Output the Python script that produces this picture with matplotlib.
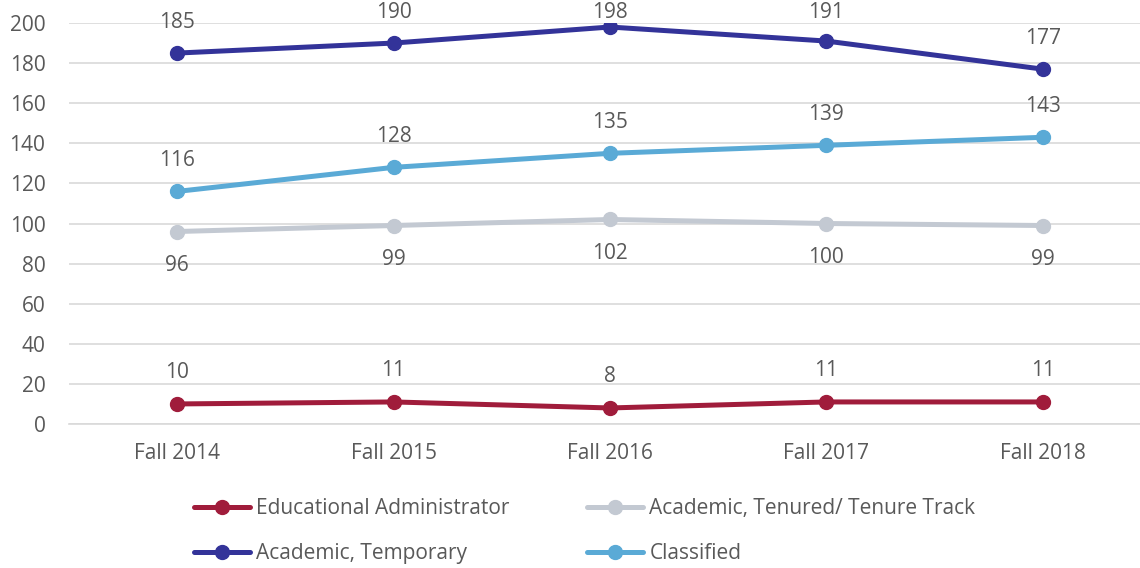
"""
Staff headcount by category, Fall 2014 - Fall 2018
"""
import matplotlib.pyplot as plt
import numpy as np

terms = ["Fall 2014", "Fall 2015", "Fall 2016", "Fall 2017", "Fall 2018"]

admin = [10, 11, 8, 11, 11]
tenured = [96, 99, 102, 100, 99]
temporary = [185, 190, 198, 191, 177]
classified = [116, 128, 135, 139, 143]

TEXT = "#595959"
W, H = 1140, 568


def main():
    plt.rcParams["font.family"] = ["Open Sans", "DejaVu Sans"]
    fig = plt.figure(figsize=(W / 100, H / 100), dpi=100)
    ax = fig.add_axes([69 / W, 1 - 424 / H, 1 - 69 / W, (424 - 23) / H])

    x = np.arange(len(terms))
    # (label, values, colour, label offset in pixels: + above, - below)
    series = [
        ("Educational Administrator", admin, "#A01C3B", 31),
        ("Academic, Tenured/ Tenure Track", tenured, "#C3C9D2", -34),
        ("Academic, Temporary", temporary, "#333399", 31),
        ("Classified", classified, "#5AAAD6", 31),
    ]
    lines = {}
    for name, vals, col, off in series:
        lines[name], = ax.plot(x, vals, color=col, lw=3.6, marker="o", ms=10,
                               label=name, solid_capstyle="round", zorder=3)

    ax.set_xlim(-0.5, 4.45)
    ax.set_ylim(0, 200)

    # data labels, kept inside the figure like Excel does
    for name, vals, col, off in series:
        for xi, v in zip(x, vals):
            px, py = ax.transData.transform((xi, v))
            py = min(py + off, H - 13)
            fig.text(px / W, py / H, str(v), ha="center", va="center",
                     fontsize=15, color=TEXT)

    ax.set_yticks(range(0, 201, 20))
    ax.set_xticks(x)
    ax.set_xticklabels(terms)
    ax.grid(axis="y", color="#D9D9D9", lw=1.2, zorder=0)
    ax.set_axisbelow(True)
    for s in ax.spines.values():
        s.set_visible(False)
    ax.spines["bottom"].set_visible(True)
    ax.spines["bottom"].set_color("#D9D9D9")
    ax.spines["bottom"].set_linewidth(1.2)
    ax.tick_params(length=0, labelsize=15, colors=TEXT)
    ax.tick_params(axis="x", pad=14)
    ax.tick_params(axis="y", pad=17)

    # legend fills column-wise: admin / temporary, then tenured / classified
    order = ["Educational Administrator", "Academic, Temporary",
             "Academic, Tenured/ Tenure Track", "Classified"]
    fig.legend([lines[n] for n in order], order, loc="center left",
               bbox_to_anchor=(194 / W, 1 - 531 / H), ncol=2,
               frameon=False, fontsize=15, labelcolor=TEXT, handlelength=2.7,
               handletextpad=0.3, columnspacing=3.7, labelspacing=1.15,
               borderaxespad=0, borderpad=0)

    fig.savefig("out.png", dpi=100)


if __name__ == "__main__":
    main()
